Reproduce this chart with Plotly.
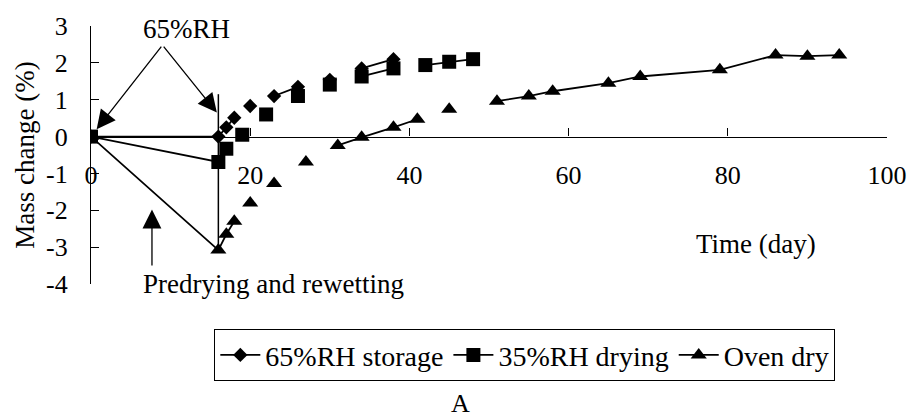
import plotly.graph_objects as go

# ---- data ----
days = [0, 16, 17, 18, 19, 20, 22, 23, 26, 27, 30, 31, 34, 38, 41, 42, 45, 48,
        51, 55, 58, 65, 69, 79, 86, 90, 94]
storage_65 = [0, 0, 0.25, 0.51, None, 0.83, None, 1.10, 1.35, None, 1.54, None,
              1.85, 2.10] + [None] * 13
drying_35 = [0, -0.69, -0.33, None, 0.05, None, 0.60, None, 1.10, None, 1.41, None,
             1.63, 1.85, None, 1.94, 2.03, 2.10] + [None] * 9
oven_dry = [0, -3.08, -2.65, -2.30, None, -1.80, None, -1.27, None, -0.69, None, -0.24,
            -0.02, 0.25, 0.47, None, 0.74, None, 0.96, 1.10, 1.23, 1.45, 1.63, 1.81,
            2.21, 2.18, 2.21]
series_names = ["65%RH storage", "35%RH drying", "Oven dry"]
x_ticks = [0, 20, 40, 60, 80, 100]
y_ticks = [-4, -3, -2, -1, 0, 1, 2, 3]
y_ticktext = ["-4", "-3", "-2", "-1", "0", "1", "2", "3"]

FONT = "Liberation Serif, Times New Roman, serif"
BLACK = "#000000"

fig = go.Figure()
symbols = ["diamond", "square", "triangle-up"]
sizes = [11, 14, 14]
for name, vals, sym, sz in zip(series_names, [storage_65, drying_35, oven_dry], symbols, sizes):
    fig.add_trace(go.Scatter(
        x=days, y=vals, name=name, mode="lines+markers",
        connectgaps=False,
        line=dict(color=BLACK, width=1.8),
        marker=dict(symbol=sym, size=sz, color=BLACK, line=dict(width=0)),
    ))

fig.update_layout(
    width=919, height=420,
    margin=dict(l=91, r=23, t=23, b=136),
    paper_bgcolor="white", plot_bgcolor="white",
    font=dict(family=FONT, size=26, color=BLACK),
    showlegend=True,
    legend=dict(
        orientation="h", x=0.545, xanchor="center", y=-0.276, yanchor="middle",
        bordercolor=BLACK, borderwidth=1, font=dict(size=28, family=FONT),
        itemwidth=40, tracegroupgap=0,
    ),
    xaxis=dict(
        range=[0, 100], tickvals=x_ticks, ticks="inside", ticklen=8, tickwidth=1,
        tickcolor=BLACK, showline=True, linecolor=BLACK, linewidth=1.2,
        showgrid=False, zeroline=False, anchor="free", position=4 / 7,
        ticklabelstandoff=15, tickfont=dict(size=26, family=FONT),
    ),
    yaxis=dict(
        range=[-4, 3], tickvals=y_ticks, ticktext=y_ticktext, ticks="inside",
        ticklen=8, tickwidth=1, tickcolor=BLACK, showline=True, linecolor=BLACK,
        linewidth=1.2, showgrid=False, zeroline=False, ticklabelstandoff=17,
        tickfont=dict(size=26, family=FONT),
    ),
)

# vertical marker line at day 16
fig.add_shape(type="line", xref="x", yref="y", x0=16, x1=16, y0=1.15, y1=-3.08,
              line=dict(color=BLACK, width=1.5))

# arrows
arrow_common = dict(xref="x", yref="y", axref="x", ayref="y", text="", showarrow=True,
                    arrowhead=2, arrowsize=2.9, arrowwidth=1.3, arrowcolor=BLACK)
fig.add_annotation(x=0.71, y=0.20, ax=8.98, ay=2.48, **arrow_common)
fig.add_annotation(x=15.81, y=0.65, ax=8.98, ay=2.48, **arrow_common)
fig.add_annotation(x=7.66, y=-1.98, ax=7.66, ay=-3.54, **arrow_common)

# texts
fig.add_annotation(x=11.99, y=2.93, xref="x", yref="y", text="65%RH", showarrow=False,
                   font=dict(size=27, family=FONT), xanchor="center", yanchor="middle")
fig.add_annotation(x=22.98, y=-4.0, xref="x", yref="y", text="Predrying and rewetting",
                   showarrow=False, font=dict(size=27, family=FONT),
                   xanchor="center", yanchor="middle")
fig.add_annotation(x=83.5, y=-2.91, xref="x", yref="y", text="Time (day)",
                   showarrow=False, font=dict(size=27, family=FONT),
                   xanchor="center", yanchor="middle")
fig.add_annotation(x=-0.0832, y=0.5, xref="paper", yref="paper", text="Mass change (%)",
                   textangle=-90, showarrow=False, font=dict(size=27, family=FONT),
                   xanchor="center", yanchor="middle")
fig.add_annotation(x=0.464, y=-0.463, xref="paper", yref="paper", text="A",
                   showarrow=False, font=dict(size=26, family=FONT),
                   xanchor="center", yanchor="middle")

fig.write_html("out.html")
